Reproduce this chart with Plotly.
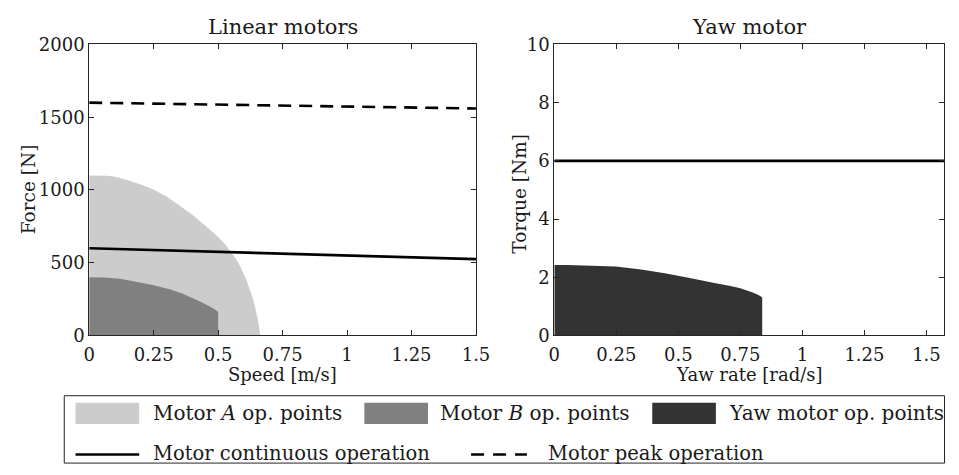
import math
import plotly.graph_objects as go

# ---------------- data ----------------
motorA_speed = [0.0, 0.07, 0.10, 0.123, 0.15, 0.18, 0.215, 0.249, 0.30, 0.35, 0.40, 0.438, 0.47, 0.502,
                0.53, 0.553, 0.575, 0.591, 0.61, 0.623, 0.637, 0.648, 0.657, 0.663]
motorA_force = [1100, 1098, 1091, 1080, 1067, 1050, 1028, 1003, 955, 893, 830, 773, 725, 674,
                620, 565, 510, 455, 380, 313, 240, 160, 80, 0]

motorB_speed = [0.0, 0.06, 0.12, 0.186, 0.25, 0.311, 0.36, 0.40, 0.43, 0.464, 0.48, 0.496, 0.50, 0.50]
motorB_force = [400, 398, 390, 368, 345, 317, 288, 258, 233, 203, 188, 168, 160, 0]

cont_speed = [0.0, 1.5]
cont_force = [600, 525]
peak_speed = [0.0, 1.5]
peak_force = [1600, 1560]

yaw_rate = [0.0, 0.05, 0.15, 0.248, 0.35, 0.445, 0.52, 0.576, 0.64, 0.71, 0.75, 0.776, 0.80, 0.816, 0.83, 0.838, 0.838]
yaw_torque = [2.42, 2.42, 2.40, 2.37, 2.27, 2.14, 2.02, 1.92, 1.81, 1.70, 1.62, 1.55, 1.48, 1.42, 1.36, 1.30, 0.0]

yaw_cont_rate = [0.0, math.pi / 2]
yaw_cont_torque = [6, 6]

x_ticks = [0, 0.25, 0.5, 0.75, 1, 1.25, 1.5]
x_ticktext = ["0", "0.25", "0.5", "0.75", "1", "1.25", "1.5"]
force_ticks = [0, 500, 1000, 1500, 2000]
torque_ticks = [0, 2, 4, 6, 8, 10]

# ---------------- style ----------------
W, H = 959, 475
FONT = "DejaVu Serif"
C_A, C_B, C_YAW = "#cccccc", "#808080", "#333333"
FRAME = "#262626"

def px(x):
    return x / W

def py(y):
    return 1 - y / H

fig = go.Figure()

fig.add_trace(go.Scatter(x=[0] + motorA_speed, y=[0] + motorA_force, fill="toself",
                         fillcolor=C_A, mode="none", xaxis="x", yaxis="y",
                         name="Motor A op. points", showlegend=False, hoverinfo="skip"))
fig.add_trace(go.Scatter(x=[0] + motorB_speed, y=[0] + motorB_force, fill="toself",
                         fillcolor=C_B, mode="none", xaxis="x", yaxis="y",
                         name="Motor B op. points", showlegend=False, hoverinfo="skip"))
fig.add_trace(go.Scatter(x=cont_speed, y=cont_force, mode="lines",
                         line=dict(color="black", width=2.6), xaxis="x", yaxis="y",
                         name="Motor continuous operation", showlegend=False))
fig.add_trace(go.Scatter(x=peak_speed, y=peak_force, mode="lines",
                         line=dict(color="black", width=2.6, dash="13px,8px"), xaxis="x", yaxis="y",
                         name="Motor peak operation", showlegend=False))

fig.add_trace(go.Scatter(x=[0] + yaw_rate, y=[0] + yaw_torque, fill="toself",
                         fillcolor=C_YAW, mode="none", xaxis="x2", yaxis="y2",
                         name="Yaw motor op. points", showlegend=False, hoverinfo="skip"))
fig.add_trace(go.Scatter(x=yaw_cont_rate, y=yaw_cont_torque, mode="lines",
                         line=dict(color="black", width=2.6), xaxis="x2", yaxis="y2",
                         name="Motor continuous operation", showlegend=False))

axis_common = dict(showline=True, linecolor=FRAME, linewidth=1, mirror="ticks",
                   ticks="inside", ticklen=5, tickcolor=FRAME, tickwidth=1,
                   showgrid=False, zeroline=False,
                   tickfont=dict(family=FONT, size=18, color="#1a1a1a"))

y0d, y1d = py(339.5), py(35)
fig.update_layout(
    width=W, height=H,
    margin=dict(l=0, r=0, t=0, b=0),
    paper_bgcolor="white", plot_bgcolor="white",
    showlegend=False,
    font=dict(family=FONT, color="black"),
    xaxis=dict(domain=[px(85), px(480)], range=[0, 1.5], tickvals=x_ticks,
               ticktext=x_ticktext, anchor="y", ticklabelstandoff=3, **axis_common),
    yaxis=dict(domain=[y0d, y1d], range=[0, 2000], tickvals=force_ticks,
               anchor="x", **axis_common),
    xaxis2=dict(domain=[px(560), px(958)], range=[0, math.pi / 2], tickvals=x_ticks,
                ticktext=x_ticktext, anchor="y2", ticklabelstandoff=3, **axis_common),
    yaxis2=dict(domain=[y0d, y1d], range=[0, 10], tickvals=torque_ticks,
                anchor="x2", **axis_common),
)

ann = []
def text(x, y, s, size, xanchor="center", angle=0):
    ann.append(dict(x=px(x), y=py(y), xref="paper", yref="paper", text=s, showarrow=False,
                    xanchor=xanchor, yanchor="middle", textangle=angle,
                    font=dict(family=FONT, size=size, color="#1a1a1a")))

# titles
text(282.5, 17, "Linear motors", 21)
text(759, 17, "Yaw motor", 21)
# axis labels
text(282.5, 380, "Speed [m/s]", 18)
text(759, 380, "Yaw rate [rad/s]", 18)
text(23, 187, "Force [N]", 18.5, angle=-90)
text(524, 191, "Torque [Nm]", 18.5, angle=-90)

# legend (manual)
shapes = []
shapes.append(dict(type="rect", xref="paper", yref="paper", x0=px(59.5), x1=px(958.5),
                   y0=py(473), y1=py(402.5), line=dict(color=FRAME, width=1), fillcolor="rgba(0,0,0,0)"))
for (x0, col) in [(71, C_A), (366, C_B), (660, C_YAW)]:
    shapes.append(dict(type="rect", xref="paper", yref="paper", x0=px(x0), x1=px(x0 + 65),
                       y0=py(432), y1=py(410), line=dict(width=0), fillcolor=col))
shapes.append(dict(type="line", xref="paper", yref="paper", x0=px(71), x1=px(136),
                   y0=py(464), y1=py(464), line=dict(color="black", width=2.6)))
shapes.append(dict(type="line", xref="paper", yref="paper", x0=px(475), x1=px(532),
                   y0=py(464), y1=py(464), line=dict(color="black", width=2.6, dash="13px,9px")))

text(148, 421, "Motor <i>A</i> op. points", 20, xanchor="left")
text(441, 421, "Motor <i>B</i> op. points", 20, xanchor="left")
text(736, 421, "Yaw motor op. points", 20, xanchor="left")
text(148, 463, "Motor continuous operation", 19.5, xanchor="left")
text(552, 463, "Motor peak operation", 19.5, xanchor="left")

fig.update_layout(annotations=ann, shapes=shapes)

fig.write_html("out.html")
